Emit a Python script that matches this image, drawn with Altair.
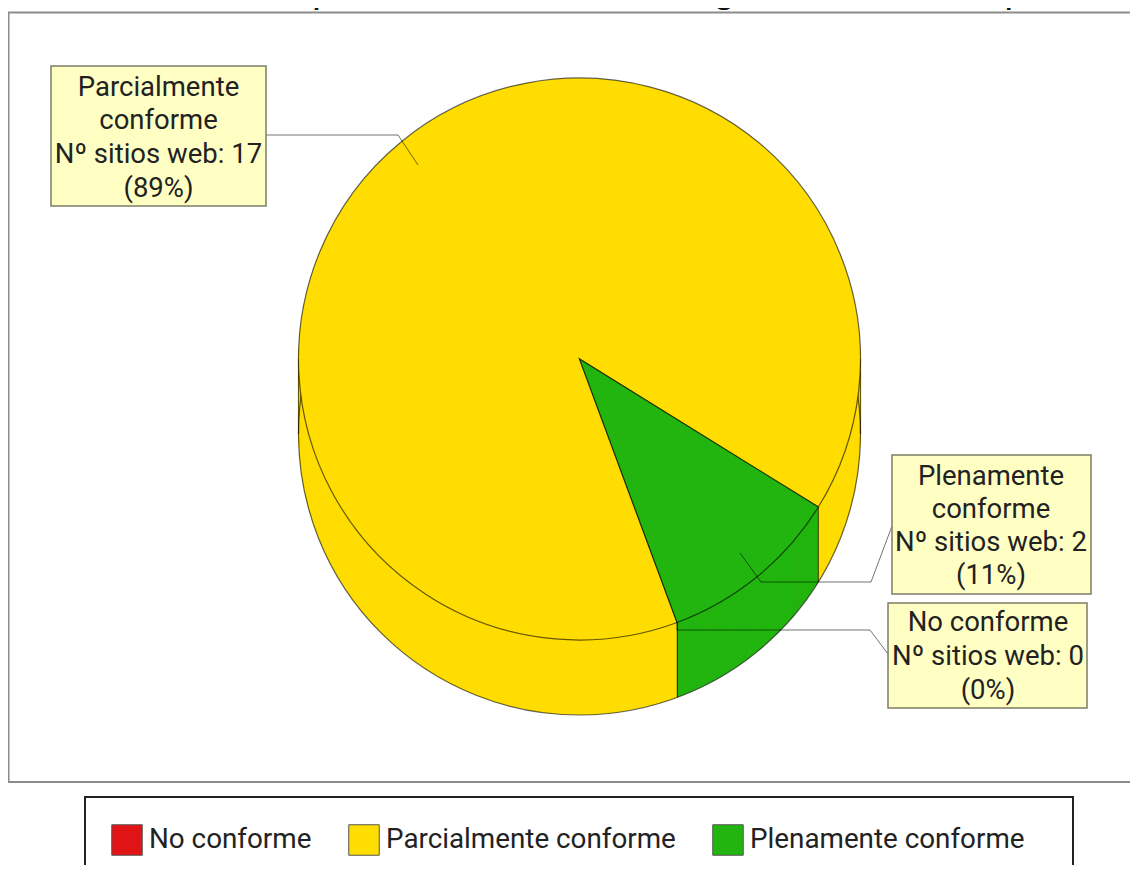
import altair as alt
import pandas as pd

# ---- chart values ----
title_text = "Situación de cumplimiento estimada: segmento 1: Transparencia"
categories = ["No conforme", "Parcialmente conforme", "Plenamente conforme"]
counts = [0, 17, 2]
percents = [0, 89, 11]
label_names = [["No conforme"], ["Parcialmente", "conforme"], ["Plenamente", "conforme"]]
colors = ["#E01414", "#FFDD00", "#22B50F"]

# ---- layout (screenshot pixels) ----
W, H = 1122, 857
CX, CY, R, DEPTH = 579.5, 359, 281, 75
START = 2.787
FONT = "Roboto"
FS = 27.5
EDGE = "#000000"
xs = alt.Scale(domain=[8, 8 + W], range=[0, W])
ys = alt.Scale(domain=[8, 8 + H], range=[0, H])
X = lambda f: alt.X(f, type="quantitative", scale=xs, axis=None)
Y = lambda f: alt.Y(f, type="quantitative", scale=ys, axis=None)

slices = pd.DataFrame({"cat": categories, "n": counts, "idx": [0, 1, 2]})
panel = pd.DataFrame({"x": [8.5], "x2": [1160], "y": [12.5], "y2": [782]})
legend_box = pd.DataFrame({"x": [85], "x2": [1073], "y": [797], "y2": [900]})
boxes = pd.DataFrame({
    "x": [888, 51, 892], "x2": [1087, 266, 1091],
    "y": [603, 66, 455], "y2": [708, 206, 594],
})
centers = [(988, [623, 657, 691]), (158.5, [88, 121, 155, 189]), (991, [477, 510, 543, 576])]
rows = []
for i in range(3):
    lines = label_names[i] + [f"Nº sitios web: {counts[i]}", f"({percents[i]}%)"]
    cx, yy = centers[i]
    rows += [{"x": cx, "y": y, "t": t} for y, t in zip(yy, lines)]
texts = pd.DataFrame(rows)
leaders = pd.DataFrame([
    {"g": 0, "o": o, "x": x, "y": y} for o, (x, y) in enumerate([(888, 654), (870, 630), (677, 630), (677, 622)])
] + [
    {"g": 1, "o": o, "x": x, "y": y} for o, (x, y) in enumerate([(266, 135), (398, 135), (418, 165)])
] + [
    {"g": 2, "o": o, "x": x, "y": y} for o, (x, y) in enumerate([(892, 526), (871, 582), (761, 582), (740, 553)])
])
edges = pd.DataFrame({
    "x": [298.5, 860.5, 677.4, 818.4], "y": [359, 359, 622.4, 507],
    "y2": [434, 434, 697.4, 582],
})
title_df = pd.DataFrame({"x": [3], "y": [2], "t": [title_text]})

color = alt.Color("cat:N", scale=alt.Scale(domain=categories, range=colors), legend=alt.Legend(
    orient="none", legendX=103, legendY=816, direction="horizontal", columns=3, title=None,
    symbolType="square", symbolSize=930, symbolStrokeColor="#555555", symbolStrokeWidth=1,
    symbolOpacity=1, labelFont=FONT, labelFontSize=27.8, labelColor="#222222", labelOffset=6,
    columnPadding=34, padding=0, labelLimit=400, gridAlign="none",
))


def disk(offset, **mark):
    return alt.Chart(slices).mark_arc(radius=R, **mark).encode(
        x=alt.value(CX - 8),
        y=alt.value(CY - 8 + offset),
        theta=alt.Theta("n:Q", stack=True, scale=alt.Scale(domain=[0, sum(counts)], range=[START, START + 6.28319])),
        color=color,
        order=alt.Order("idx:Q"),
    )


def rects(df, dx=0, dy=0, **mark):
    return alt.Chart(df).mark_rect(**mark).encode(
        x=alt.X("x:Q", scale=xs, axis=None), x2="x2:Q",
        y=alt.Y("y:Q", scale=ys, axis=None), y2="y2:Q",
        xOffset=alt.value(dx), yOffset=alt.value(dy),
    )


layers = [rects(panel, fill="#FFFFFF", stroke="#8C8C8C", strokeWidth=2)]
layers.append(rects(legend_box, fill="#FFFFFF", stroke="#222222", strokeWidth=2))
# the pie's wall: the slices extruded downwards
layers += [disk(k) for k in range(DEPTH, 0, -1)]
layers.append(alt.Chart(slices.head(1)).mark_arc(
    radius=R, theta=0, theta2=6.28319, fillOpacity=0, stroke=EDGE, strokeOpacity=0.6, strokeWidth=1.2
).encode(x=alt.value(CX - 8), y=alt.value(CY - 8 + DEPTH)))
layers.append(alt.Chart(edges).mark_rule(stroke=EDGE, strokeOpacity=0.6, strokeWidth=1.2).encode(
    x=X("x"), y=Y("y"), y2="y2:Q"))
layers.append(disk(0, stroke=EDGE, strokeOpacity=0.6, strokeWidth=1.2))
layers.append(alt.Chart(leaders).mark_line(stroke=EDGE, strokeOpacity=0.55, strokeWidth=1).encode(
    x=X("x"), y=Y("y"), detail="g:N", order="o:Q"))
for d, op in ((4, 0.12), (3, 0.2), (2, 0.25)):
    layers.append(rects(boxes, dx=d, dy=d, fill="#555555", fillOpacity=op))
layers.append(rects(boxes, fill="#FFFFC4", stroke="#7E7E66", strokeWidth=1.5))
layers.append(alt.Chart(texts).mark_text(
    font=FONT, fontSize=FS, color="#222222", align="center", baseline="middle"
).encode(x=X("x"), y=Y("y"), text="t:N"))
layers.append(alt.Chart(title_df).mark_text(
    font="Liberation Sans", fontSize=40.3, color="#111111", align="left", baseline="alphabetic"
).encode(x=X("x"), y=Y("y"), text="t:N"))

chart = alt.layer(*layers).properties(
    width=W, height=H, padding=0, background="#FFFFFF",
    autosize=alt.AutoSizeParams(type="none"),
).configure_view(stroke=None)

chart.save("out.html", embed_options={"renderer": "svg", "actions": False})
